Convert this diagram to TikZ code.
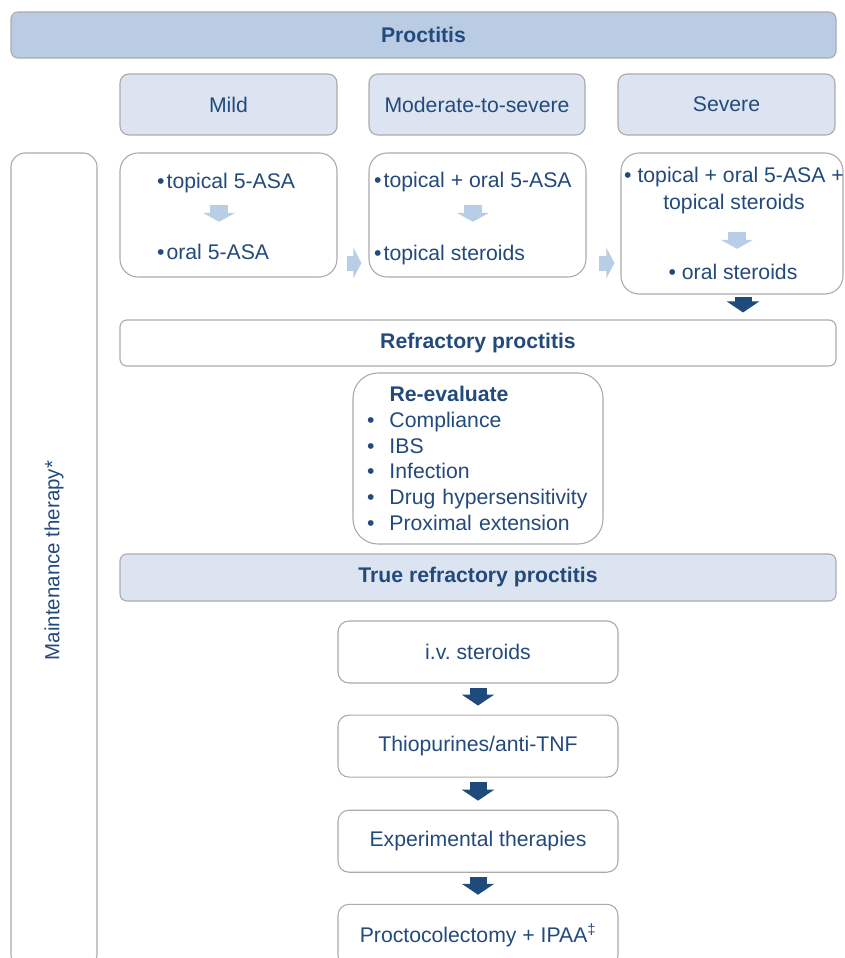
\documentclass[tikz,border=0pt]{standalone}
\usepackage{fontspec}
\setmainfont{Liberation Sans}
\usetikzlibrary{positioning,calc,arrows.meta}

\definecolor{txtblue}{HTML}{234A7C}
\definecolor{arrowblue}{HTML}{1F4A7C}
\definecolor{hdrfill}{HTML}{B9CCE4}
\definecolor{lvlfill}{HTML}{DCE4F1}
\definecolor{lightarrow}{HTML}{B8CDE6}
\definecolor{boxgray}{HTML}{ABABAB}

\frenchspacing
\tikzset{
  every node/.style={text=txtblue, font=\fontsize{21.2}{25.7}\selectfont},
  hdr/.style={draw=boxgray, line width=1.1pt, fill=hdrfill, rounded corners=7pt,
    font=\fontsize{21.2}{25.7}\selectfont\bfseries},
  bar/.style={draw=boxgray, line width=1.1pt, rounded corners=7pt,
    minimum width=716pt, minimum height=46pt, font=\fontsize{21.2}{25.7}\selectfont\bfseries},
  lvl/.style={draw=boxgray, line width=1.1pt, fill=lvlfill, rounded corners=9pt,
    minimum width=217pt, minimum height=61pt},
  tbox/.style={draw=boxgray, line width=1.1pt, fill=white, rounded corners=18pt},
  chainbox/.style={draw=boxgray, line width=1.1pt, rounded corners=11pt,
    minimum width=280pt, minimum height=62pt},
  item/.style={inner sep=0pt, text height=15pt, text depth=5pt},
  darr/.style={draw=arrowblue, line width=17pt, shorten <=4pt, shorten >=9pt,
    -{Triangle[width=32pt,length=11pt]}},
  ldarr/.style={draw=lightarrow, line width=18pt,
    -{Triangle[width=32pt,length=9pt]}},
  lrarr/.style={draw=lightarrow, line width=15pt,
    -{Triangle[width=30pt,length=8pt]}}
}

\begin{document}
\begin{tikzpicture}[x=1pt, y=-1pt]
  \useasboundingbox (0,0) rectangle (845,958);

  % severity levels
  \node[hdr, minimum width=825pt, minimum height=46pt] (proct) at (423.5,35) {Proctitis};
  \node[lvl] (mild) at (228.5,104.5) {Mild};
  \node[lvl, minimum width=216pt] (modsev) at (477,104.5) {Moderate-to-severe};
  \node[lvl] (severe) at (726.5,104.5) {Severe};

  \node[draw=boxgray, line width=1.1pt, rounded corners=14pt, rotate=90,
    minimum width=815pt, minimum height=86pt, font=\fontsize{20.5}{24}\selectfont] (maint) at (54,560.5) {Maintenance therapy*};

  % first line treatment
  \node[tbox, minimum width=217pt, minimum height=124pt] (mildbox) at (228.5,215) {};
  \node[tbox, minimum width=217pt, minimum height=124pt] (modbox) at (477.5,215) {};
  \node[tbox, minimum width=222pt, minimum height=141pt] (sevbox) at (732,223.5) {};

  \node[item, anchor=base west] (mild1) at (157,188) {•\hspace{2pt}topical 5-ASA};
  \node[item, anchor=base west] (mild2) at (157,259) {•\hspace{2pt}oral 5-ASA};
  \node[item, anchor=base west] (mod1) at (374,187) {•\hspace{2pt}topical + oral 5-ASA};
  \node[item, anchor=base west] (mod2) at (374,260) {•\hspace{2pt}topical steroids};
  \node[inner sep=0pt, align=center, anchor=base, font=\fontsize{21.2}{26.5}\selectfont] (sev1) at (734,209)
    {• topical + oral 5-ASA +\\topical steroids};
  \node[item, anchor=base] (sev2) at (733,279) {• oral steroids};

  \draw[ldarr, shorten <=12pt, shorten >=22pt] ([xshift=-7pt]mild1.south) -- ([xshift=-7pt]mild1.south |- mild2.north);
  \draw[ldarr, shorten <=13pt, shorten >=23pt] (mod1.south) -- (mod1.south |- mod2.north);
  \draw[ldarr, shorten <=18pt, shorten >=15pt] ([xshift=3pt]sev1.south) -- ([xshift=3pt]sev1.south |- sev2.north);

  \draw[lrarr, shorten <=9pt, shorten >=7pt] ([yshift=-48pt]mildbox.east) -- ([yshift=-48pt]mildbox.east -| modbox.west);
  \draw[lrarr, shorten <=12pt, shorten >=6pt] ([yshift=-48pt]modbox.east) -- ([yshift=-48pt]modbox.east -| sevbox.west);

  % refractory
  \node[bar] (refr) at (478,343) {Refractory proctitis};
  \draw[darr, shorten <=2pt, shorten >=7pt] ([xshift=11pt]sevbox.south) -- ([xshift=11pt]sevbox.south |- refr.north);

  \node[tbox, rounded corners=25pt, minimum width=250pt, minimum height=171pt, text width=222pt, align=left] (reeval) at (478,458.5)
    {\hspace*{22.5pt}\textbf{Re-evaluate}\\
     \makebox[22.5pt][l]{•}Compliance\\
     \makebox[22.5pt][l]{•}IBS\\
     \makebox[22.5pt][l]{•}Infection\\
     \makebox[22.5pt][l]{•}Drug hypersensitivity\\
     \makebox[22.5pt][l]{•}Proximal extension};

  \node[bar, fill=lvlfill, minimum height=47pt] (truerefr) at (478,577.5) {True refractory proctitis};

  % escalation
  \node[chainbox] (iv) at (478,652) {i.v. steroids};
  \node[chainbox, below=31pt of iv] (thio) {Thiopurines/anti-TNF};
  \node[chainbox, below=32pt of thio] (exper) {Experimental therapies};
  \node[chainbox, below=31pt of exper] (colect) {Proctocolectomy + IPAA\textsuperscript{‡}};

  \draw[darr] (iv.south) -- (thio.north);
  \draw[darr] (thio.south) -- (exper.north);
  \draw[darr] (exper.south) -- (colect.north);
\end{tikzpicture}
\end{document}
